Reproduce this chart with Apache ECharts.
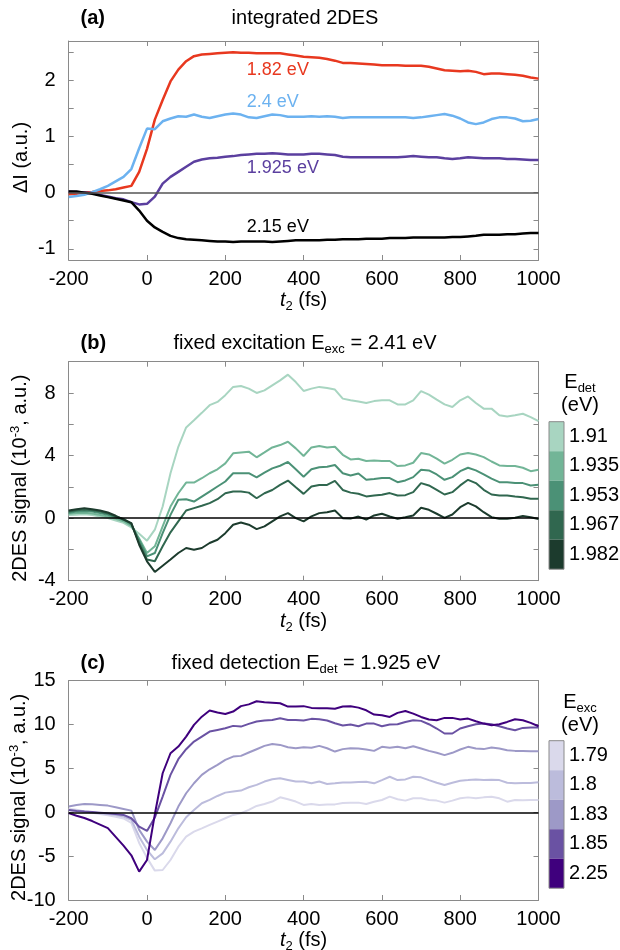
<!DOCTYPE html>
<html><head><meta charset="utf-8">
<script src="https://cdn.jsdelivr.net/npm/echarts@6/dist/echarts.min.js"></script>
<style>html,body{margin:0;padding:0;background:#fff}#c{width:620px;height:950px}</style>
</head><body><div id="c"></div>
<script>
// ---------- data ----------
const t2 = [-200,-180,-160,-140,-120,-100,-80,-60,-40,-20,
  0,20,40,60,80,100,120,140,160,180,
  200,220,240,260,280,300,320,340,360,380,
  400,420,440,460,480,500,520,540,560,580,
  600,620,640,660,680,700,720,740,760,780,
  800,820,840,860,880,900,920,940,960,980,1000];
const xTicks = [-200,0,200,400,600,800,1000];

// (a) integrated 2DES
const aNames = ['1.82 eV','2.4 eV','1.925 eV','2.15 eV'];
const a182 = [-0.03,-0.02,0.00,0.01,0.03,0.04,0.06,0.09,0.12,0.37,
  0.78,1.30,1.65,1.98,2.19,2.34,2.43,2.46,2.47,2.48,
  2.49,2.50,2.49,2.49,2.48,2.48,2.48,2.48,2.46,2.44,
  2.42,2.41,2.40,2.38,2.35,2.31,2.31,2.30,2.29,2.28,
  2.27,2.27,2.27,2.26,2.26,2.26,2.24,2.21,2.18,2.17,
  2.16,2.17,2.15,2.11,2.12,2.12,2.11,2.10,2.08,2.05,2.03];
const a24 = [-0.08,-0.06,-0.04,0.01,0.06,0.12,0.20,0.28,0.42,0.79,
  1.14,1.13,1.27,1.32,1.36,1.35,1.39,1.35,1.33,1.36,
  1.39,1.41,1.39,1.34,1.33,1.36,1.39,1.38,1.35,1.35,
  1.35,1.36,1.35,1.36,1.35,1.33,1.34,1.34,1.34,1.34,
  1.34,1.34,1.34,1.34,1.33,1.34,1.36,1.38,1.40,1.37,
  1.32,1.25,1.22,1.25,1.31,1.34,1.34,1.32,1.27,1.28,1.31];
const a1925 = [0.02,0.01,0.00,-0.01,-0.04,-0.07,-0.10,-0.12,-0.17,-0.21,
  -0.20,-0.07,0.16,0.28,0.37,0.46,0.55,0.59,0.61,0.62,
  0.64,0.65,0.67,0.68,0.69,0.69,0.70,0.69,0.68,0.68,
  0.68,0.69,0.69,0.68,0.67,0.64,0.63,0.63,0.63,0.63,
  0.63,0.63,0.63,0.64,0.65,0.64,0.63,0.63,0.61,0.60,
  0.61,0.63,0.62,0.61,0.61,0.61,0.60,0.60,0.59,0.58,0.58];
const a215 = [0.02,0.02,0.00,-0.02,-0.05,-0.08,-0.11,-0.14,-0.17,-0.32,
  -0.50,-0.62,-0.70,-0.77,-0.81,-0.83,-0.84,-0.85,-0.86,-0.87,
  -0.87,-0.88,-0.87,-0.87,-0.87,-0.87,-0.88,-0.87,-0.86,-0.85,
  -0.85,-0.85,-0.85,-0.84,-0.84,-0.83,-0.83,-0.83,-0.82,-0.82,
  -0.82,-0.81,-0.81,-0.81,-0.80,-0.80,-0.80,-0.80,-0.80,-0.79,
  -0.79,-0.78,-0.77,-0.75,-0.75,-0.75,-0.74,-0.74,-0.73,-0.72,-0.72];

// (b) fixed excitation, E_det values
const bNames = ['1.91','1.935','1.953','1.967','1.982'];
const b191 = [0.20,0.22,0.25,0.20,0.10,0.00,-0.15,-0.30,-0.60,-1.00,
  -1.44,-0.74,0.74,2.87,4.56,5.80,6.26,6.73,7.22,7.43,
  7.86,8.39,8.45,8.28,8.00,8.17,8.49,8.81,9.17,8.70,
  8.13,8.28,8.39,8.32,8.22,7.64,7.54,7.46,7.36,7.48,
  7.53,7.53,7.27,7.27,7.53,8.12,7.89,7.57,7.27,7.10,
  7.53,7.78,7.36,7.00,7.00,6.57,6.50,6.57,6.67,6.46,6.20];
const b1935 = [0.28,0.32,0.35,0.30,0.20,0.10,-0.05,-0.20,-0.50,-1.30,
  -2.23,-1.80,-0.53,0.74,1.59,2.27,2.27,2.55,2.87,3.12,
  3.50,4.14,4.20,4.25,3.89,4.20,4.52,4.67,4.88,4.46,
  3.97,4.52,4.61,4.52,4.56,4.05,3.75,3.80,3.65,3.68,
  3.65,3.65,3.33,3.37,3.54,4.16,4.07,3.80,3.48,3.73,
  4.07,4.16,4.07,3.90,3.62,3.37,3.33,3.33,3.22,3.00,3.09];
const b1953 = [0.35,0.42,0.45,0.42,0.32,0.22,0.05,-0.10,-0.40,-1.40,
  -2.44,-2.23,-0.96,0.21,1.17,1.21,1.06,1.38,1.70,2.02,
  2.34,2.87,2.87,2.87,2.61,2.91,3.18,3.35,3.59,3.12,
  2.65,3.12,3.25,3.29,3.40,2.87,2.72,2.85,2.45,2.50,
  2.56,2.56,2.30,2.41,2.62,3.09,3.05,2.79,2.45,2.62,
  3.00,3.22,3.05,2.79,2.52,2.30,2.30,2.24,2.24,2.09,2.13];
const b1967 = [0.42,0.50,0.55,0.50,0.42,0.30,0.10,-0.05,-0.35,-1.60,
  -2.65,-2.76,-1.80,-0.91,-0.21,0.49,0.64,0.79,0.96,1.21,
  1.59,1.70,1.70,1.63,1.27,1.59,1.80,2.12,2.40,1.97,
  1.55,2.02,2.12,2.12,2.38,1.80,1.63,1.56,1.39,1.44,
  1.49,1.60,1.45,1.47,1.66,2.24,2.09,1.81,1.51,1.66,
  2.09,2.45,2.24,1.81,1.51,1.45,1.45,1.39,1.34,1.24,1.24];
const b1982 = [0.49,0.57,0.64,0.57,0.49,0.36,0.15,-0.10,-0.32,-1.70,
  -2.76,-3.44,-3.04,-2.65,-2.23,-1.91,-2.02,-1.91,-1.59,-1.38,
  -0.96,-0.42,-0.28,-0.42,-0.70,-0.53,-0.21,0.11,0.32,0.00,
  -0.21,0.11,0.32,0.38,0.49,0.00,-0.03,0.10,-0.09,0.17,
  0.28,0.10,-0.04,0.06,0.17,0.66,0.53,0.28,0.02,0.23,
  0.70,0.98,0.75,0.38,0.06,-0.04,-0.04,0.02,0.13,0.06,-0.06];

// (c) fixed detection, E_exc values
const cNames = ['1.79','1.8','1.83','1.85','2.25'];
const c179 = [0.40,0.30,0.10,-0.05,-0.20,-0.35,-0.50,-0.70,-1.20,-3.50,
  -5.20,-6.65,-6.58,-5.44,-3.92,-2.78,-2.21,-1.83,-1.44,-1.06,
  -0.68,-0.30,-0.11,0.27,0.72,0.95,1.22,1.71,1.48,1.22,
  0.84,0.95,0.84,0.90,0.90,1.05,1.10,1.10,0.95,1.21,
  1.40,1.78,1.48,1.33,1.59,1.59,1.40,1.33,1.10,1.33,
  1.59,1.70,1.59,1.70,1.78,1.59,1.21,1.40,1.38,1.40,1.40];
const c18 = [0.27,0.20,0.08,0.00,-0.11,-0.20,-0.30,-0.49,-0.87,-2.78,
  -4.30,-5.36,-4.68,-3.35,-1.83,-0.57,0.27,1.03,1.41,1.86,
  2.24,2.36,2.47,2.85,3.12,3.50,3.76,3.88,3.69,3.50,
  3.50,3.31,3.50,3.23,3.31,3.40,3.40,3.45,3.48,3.30,
  3.67,4.05,3.67,3.75,4.05,3.98,3.67,3.37,3.11,3.37,
  3.60,3.67,3.75,3.67,3.70,3.67,3.37,3.30,3.35,3.35,3.41];
const c183 = [0.65,0.84,0.95,0.91,0.84,0.76,0.57,0.38,0.19,-2.00,
  -3.35,-4.30,-2.97,-1.25,0.65,2.17,3.31,4.26,4.90,5.40,
  5.97,6.35,6.43,6.81,7.19,7.57,7.79,7.68,7.41,7.30,
  7.41,7.35,7.57,7.30,6.92,7.20,7.30,7.27,7.16,7.00,
  7.46,7.35,7.46,7.30,7.53,7.27,7.00,6.78,6.52,6.78,
  7.16,7.46,7.27,7.20,7.39,7.27,7.08,7.00,7.00,6.97,6.97];
const c185 = [0.27,0.15,0.08,0.02,-0.04,-0.10,-0.19,-0.30,-0.68,-1.63,
  -2.13,-0.60,1.79,4.26,6.05,7.19,8.06,8.63,9.20,9.39,
  9.58,9.85,9.77,10.08,10.34,10.46,10.53,10.72,10.53,10.53,
  10.46,10.65,10.60,10.46,10.15,9.90,10.00,9.81,10.11,10.11,
  9.81,10.00,10.04,10.30,10.49,10.42,10.04,9.55,8.98,8.98,
  9.55,9.81,10.04,10.11,10.04,9.81,9.55,9.36,9.62,9.66,9.66];
const c225 = [-0.10,-0.40,-0.65,-1.00,-1.40,-1.80,-2.80,-3.80,-4.90,-6.77,
  -5.44,-0.23,4.45,6.73,7.49,8.63,9.96,10.90,11.60,11.37,
  11.20,11.48,12.10,12.30,12.66,12.55,12.50,12.43,12.05,12.05,
  12.10,11.90,11.86,11.86,11.80,12.05,12.08,11.93,11.63,11.14,
  11.06,10.87,11.33,11.55,11.25,10.87,10.57,10.49,10.76,10.76,
  10.57,10.68,10.38,10.11,9.92,10.04,10.30,10.61,10.49,10.19,9.81];

const aTickVals = [-1,-0.5,0,0.5,1,1.5,2,2.5];
const aLabelVals = [-1,0,1,2];
const bTickVals = [-4,-2,0,2,4,6,8,10];
const bLabelVals = [-4,0,4,8];
const cLabelVals = [-10,-5,0,5,10,15];

// ---------- styling ----------
const FF = '"Liberation Sans", Arial, Helvetica, sans-serif';
const AX = '#8a8a8a';
const aColors = ['#e8381f','#6cb2f0','#5b3f9f','#000000'];
const bColors = ['#a8d5c1','#72b597','#4b9176','#30674f','#1c3b2d'];
const cColors = ['#dad9eb','#bcbcdc','#9d99c7','#6a52a3','#3f007d'];

const zip = v => t2.map((t, i) => [t, v[i]]);
const plain = v => String(v);

const PL = 68.7, PW = 469.8;
const grids = [
  {left: PL, width: PW, top: 41, height: 219, outerBoundsMode: 'none', containLabel: false},
  {left: PL, width: PW, top: 361.7, height: 219, outerBoundsMode: 'none', containLabel: false},
  {left: PL, width: PW, top: 680.7, height: 219.3, outerBoundsMode: 'none', containLabel: false}
];

const richSub = {
  i: {fontStyle: 'italic', fontSize: 20, fontFamily: FF, color: '#000'},
  s: {fontSize: 13, fontFamily: FF, color: '#000', padding: [12, 0, 0, 0]},
  p: {fontSize: 13, fontFamily: FF, color: '#000', padding: [0, 0, 10, 0]}
};

const xAxes = [], yAxes = [];
[0,1,2].forEach(g => {
  xAxes.push({
    type: 'value', gridIndex: g, min: -200, max: 1000, interval: 200, position: 'bottom',
    axisLine: {show: true, onZero: false, lineStyle: {color: AX, width: 1}},
    axisTick: {show: true, inside: true, length: 5, lineStyle: {color: AX}, customValues: xTicks},
    axisLabel: {show: true, fontSize: 20, color: '#000', fontFamily: FF, margin: 9,
      customValues: xTicks, formatter: plain},
    splitLine: {show: false},
    name: '{i|t}{s|2} (fs)', nameLocation: 'middle', nameGap: 28, nameMoveOverlap: false,
    nameTextStyle: {fontSize: 20, fontFamily: FF, color: '#000', rich: richSub}
  });
  xAxes.push({
    type: 'value', gridIndex: g, min: -200, max: 1000, interval: 200, position: 'top',
    axisLine: {show: true, onZero: false, lineStyle: {color: AX, width: 1}},
    axisTick: {show: true, inside: true, length: 5, lineStyle: {color: AX}, customValues: xTicks},
    axisLabel: {show: false}, splitLine: {show: false}
  });
});

function yPair(g, min, max, labelVals, tickVals, name, gap) {
  const left = {
    type: 'value', gridIndex: g, min: min, max: max, position: 'left',
    axisLine: {show: true, onZero: false, lineStyle: {color: AX, width: 1}},
    axisTick: {show: true, inside: true, length: 5, lineStyle: {color: AX}, customValues: tickVals},
    axisLabel: {show: true, fontSize: 20, color: '#000', fontFamily: FF, margin: 13,
      customValues: labelVals, formatter: plain},
    splitLine: {show: false},
    name: name, nameLocation: 'middle', nameGap: gap, nameMoveOverlap: false,
    nameTextStyle: {fontSize: 20, fontFamily: FF, color: '#000', rich: richSub,
      padding: [0, 14, 0, 0]}
  };
  const right = {
    type: 'value', gridIndex: g, min: min, max: max, position: 'right',
    axisLine: {show: true, onZero: false, lineStyle: {color: AX, width: 1}},
    axisTick: {show: true, inside: true, length: 5, lineStyle: {color: AX}, customValues: tickVals},
    axisLabel: {show: false}, splitLine: {show: false}
  };
  yAxes.push(left, right);
}
yPair(0, -1.2, 2.7, aLabelVals, aTickVals, 'ΔI (a.u.)', 37);
yPair(1, -4, 10, bLabelVals, bTickVals, '2DES signal (10{p|-3}, a.u.)', 37);
yPair(2, -10, 15, cLabelVals, cLabelVals, '2DES signal (10{p|-3}, a.u.)', 38);

function zeroLine(color, w) {
  return {silent: true, symbol: ['none','none'], label: {show: false}, animation: false,
    lineStyle: {color: color, width: w, type: 'solid'}, emphasis: {disabled: true},
    data: [{yAxis: 0}]};
}

const series = [];
// panel a
const aData = [a182, a24, a1925, a215];
const aLabelPos = [[255, 2.19], [255, 1.62], [255, 0.435], [255, -0.62]];
aData.forEach((d, i) => {
  series.push({
    type: 'line', name: aNames[i], xAxisIndex: 0, yAxisIndex: 0, data: zip(d),
    showSymbol: false, symbol: 'none', smooth: false, z: 3,
    lineStyle: {color: aColors[i], width: 2.5}, itemStyle: {color: aColors[i]},
    emphasis: {disabled: true},
    markLine: i === 0 ? zeroLine('#555555', 1.6) : undefined,
    markPoint: {
      symbol: 'circle', symbolSize: 0, silent: true, animation: false,
      data: [{coord: aLabelPos[i], value: aNames[i],
        label: {show: true, position: 'right', distance: 0, formatter: aNames[i],
          color: aColors[i], fontSize: 18, fontFamily: FF}}]
    }
  });
});
// panel b
[b191, b1935, b1953, b1967, b1982].forEach((d, i) => {
  series.push({
    type: 'line', name: bNames[i], xAxisIndex: 2, yAxisIndex: 2, data: zip(d),
    showSymbol: false, symbol: 'none', z: 3,
    lineStyle: {color: bColors[i], width: 2}, itemStyle: {color: bColors[i]},
    emphasis: {disabled: true},
    markLine: i === 0 ? zeroLine('#000000', 1.5) : undefined
  });
});
// panel c
[c179, c18, c183, c185, c225].forEach((d, i) => {
  series.push({
    type: 'line', name: cNames[i], xAxisIndex: 4, yAxisIndex: 4, data: zip(d),
    showSymbol: false, symbol: 'none', z: 3,
    lineStyle: {color: cColors[i], width: 2}, itemStyle: {color: cColors[i]},
    emphasis: {disabled: true},
    markLine: i === 0 ? zeroLine('#000000', 1.5) : undefined
  });
});

const LG_X = 549, LG_W = 15, LG_H = 29.5;
function legend(names, top) {
  return {
    data: names, orient: 'vertical', left: LG_X, top: top, padding: 0,
    itemWidth: LG_W, itemHeight: LG_H, itemGap: 0, icon: 'rect', selectedMode: false,
    textStyle: {fontSize: 20, fontFamily: FF, color: '#000'}
  };
}

function txt(x, y, text, opts) {
  return {type: 'text', x: x, y: y, silent: true,
    style: Object.assign({text: text, fontSize: 20, fontFamily: FF, fill: '#000',
      align: 'left', verticalAlign: 'middle', rich: richSub}, opts || {})};
}
function frame(top, n) {
  return {type: 'rect', silent: true, z: 10,
    shape: {x: LG_X, y: top, width: LG_W, height: LG_H * n},
    style: {fill: null, stroke: AX, lineWidth: 1}};
}

const graphic = [
  txt(80.5, 18, '(a)', {fontWeight: 'bold'}),
  txt(305, 18, 'integrated 2DES', {align: 'center'}),
  txt(80.5, 343, '(b)', {fontWeight: 'bold'}),
  txt(305, 343, 'fixed excitation E{s|exc} = 2.41 eV', {align: 'center'}),
  txt(80.5, 663, '(c)', {fontWeight: 'bold'}),
  txt(306, 663, 'fixed detection E{s|det} = 1.925 eV', {align: 'center'}),
  txt(580, 382, 'E{s|det}', {align: 'center'}),
  txt(580, 405, '(eV)', {align: 'center'}),
  txt(580, 702, 'E{s|exc}', {align: 'center'}),
  txt(580, 725, '(eV)', {align: 'center'}),
  frame(421.7, bNames.length),
  frame(740.7, cNames.length)
];

const chart = echarts.init(document.getElementById('c'), null, {renderer: 'canvas'});
chart.setOption({
  backgroundColor: '#ffffff',
  animation: false,
  grid: grids,
  xAxis: xAxes,
  yAxis: yAxes,
  legend: [legend(bNames, 421.7), legend(cNames, 740.7)],
  series: series,
  graphic: graphic
});
</script>
</body></html>
